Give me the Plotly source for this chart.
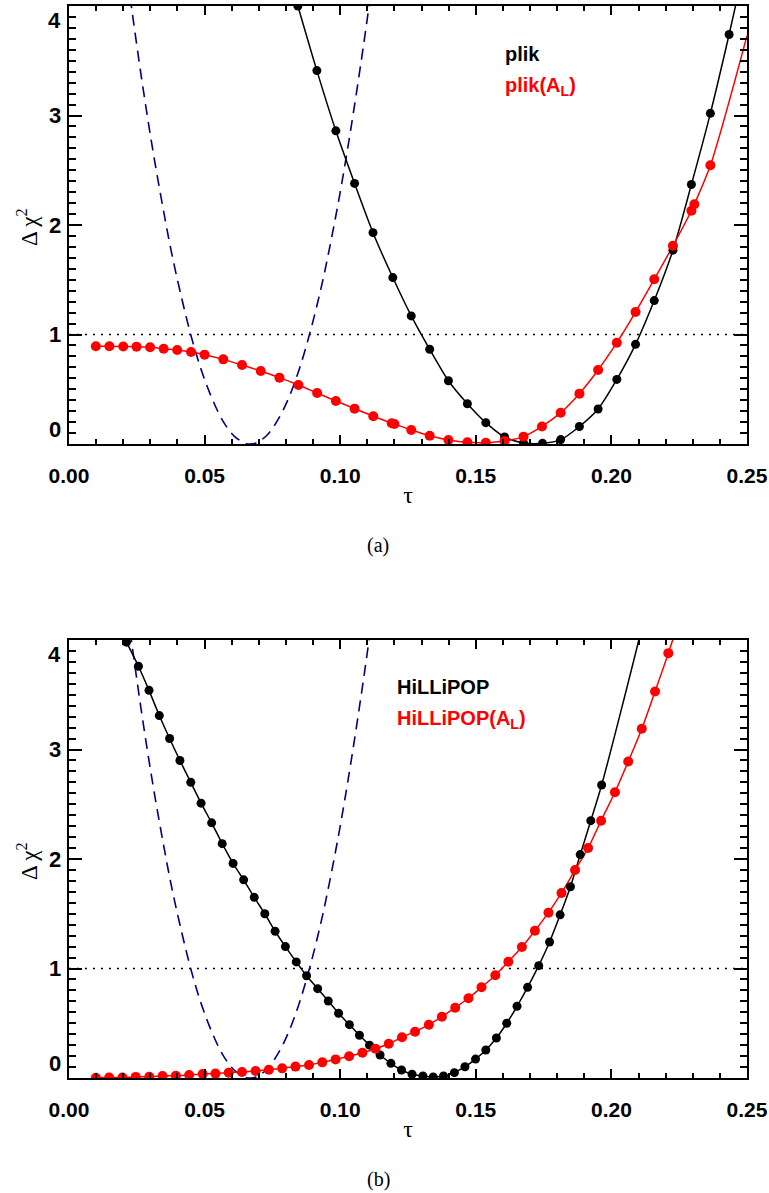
import plotly.graph_objects as go

W, H = 769, 1193

# ---------------- data (panel a) ----------------
tau_a_plik = [0.0844, 0.0914, 0.0984, 0.1053, 0.1121, 0.1194, 0.1262, 0.1330, 0.1399, 0.1469,
              0.1537, 0.1606, 0.1676, 0.1746, 0.1813, 0.1882, 0.1951, 0.2020, 0.2089, 0.2158,
              0.2227, 0.2295, 0.2365, 0.2434]
dchi_a_plik = [4.00, 3.41, 2.86, 2.38, 1.93, 1.52, 1.17, 0.865, 0.578, 0.368,
               0.195, 0.064, 0.010, 0.006, 0.040, 0.160, 0.320, 0.590, 0.910, 1.310,
               1.770, 2.370, 3.020, 3.740]
tail_tau_a_plik = [0.2503]
tail_dchi_a_plik = [4.50]

tau_a_plikAL = [0.0099, 0.0149, 0.0200, 0.0249, 0.0299, 0.0349, 0.0399, 0.0450, 0.0500, 0.0569,
                0.0638, 0.0707, 0.0776, 0.0846, 0.0915, 0.0984, 0.1053, 0.1122, 0.1190, 0.1200,
                0.1262, 0.1330, 0.1399, 0.1469, 0.1537, 0.1606, 0.1676, 0.1744, 0.1813, 0.1882,
                0.1951, 0.2020, 0.2089, 0.2158, 0.2227, 0.2295, 0.2306, 0.2365]
dchi_a_plikAL = [0.892, 0.892, 0.890, 0.889, 0.883, 0.870, 0.858, 0.840, 0.816, 0.773,
                 0.721, 0.667, 0.606, 0.539, 0.466, 0.393, 0.323, 0.253, 0.190, 0.182,
                 0.128, 0.076, 0.037, 0.015, 0.012, 0.027, 0.067, 0.160, 0.286, 0.460,
                 0.676, 0.925, 1.205, 1.504, 1.810, 2.130, 2.190, 2.545]
tail_tau_a_plikAL = [0.2500]
tail_dchi_a_plikAL = [3.73]

# ---------------- data (panel b) ----------------
tau_b_hil = [0.0212, 0.0256, 0.0295, 0.0333, 0.0371, 0.0409, 0.0449, 0.0487, 0.0526, 0.0565,
             0.0605, 0.0644, 0.0683, 0.0722, 0.0760, 0.0798, 0.0838, 0.0876, 0.0917, 0.0956,
             0.0994, 0.1034, 0.1071, 0.1108, 0.1147, 0.1187, 0.1226, 0.1265, 0.1305, 0.1343,
             0.1381, 0.1421, 0.1460, 0.1499, 0.1537, 0.1576, 0.1614, 0.1652, 0.1691, 0.1732,
             0.1772, 0.1811, 0.1849, 0.1885, 0.1924, 0.1964]
dchi_b_hil = [3.98, 3.76, 3.54, 3.31, 3.10, 2.90, 2.70, 2.51, 2.33, 2.14,
              1.96, 1.81, 1.65, 1.50, 1.34, 1.20, 1.06, 0.934, 0.816, 0.703,
              0.591, 0.487, 0.390, 0.300, 0.210, 0.134, 0.073, 0.034, 0.018, 0.009,
              0.018, 0.049, 0.103, 0.173, 0.256, 0.365, 0.500, 0.655, 0.828, 1.026,
              1.242, 1.490, 1.747, 2.040, 2.350, 2.676]
tail_tau_b_hil = [0.2101, 0.2140]
tail_dchi_b_hil = [4.00, 4.42]

tau_b_hilAL = [0.0099, 0.0148, 0.0197, 0.0246, 0.0296, 0.0345, 0.0394, 0.0443, 0.0493, 0.0540,
               0.0589, 0.0638, 0.0688, 0.0737, 0.0786, 0.0835, 0.0885, 0.0934, 0.0983, 0.1033,
               0.1082, 0.1130, 0.1179, 0.1228, 0.1276, 0.1327, 0.1375, 0.1424, 0.1473, 0.1521,
               0.1572, 0.1620, 0.1670, 0.1718, 0.1768, 0.1816, 0.1866, 0.1914, 0.1962, 0.2013,
               0.2062, 0.2112, 0.2161, 0.2210]
dchi_b_hilAL = [0.003, 0.005, 0.005, 0.010, 0.012, 0.018, 0.021, 0.027, 0.036, 0.040,
                0.049, 0.055, 0.064, 0.076, 0.088, 0.104, 0.119, 0.143, 0.170, 0.198,
                0.230, 0.267, 0.313, 0.372, 0.423, 0.487, 0.560, 0.642, 0.728, 0.828,
                0.938, 1.062, 1.196, 1.345, 1.510, 1.690, 1.900, 2.100, 2.350, 2.610,
                2.890, 3.190, 3.530, 3.880]
tail_tau_b_hilAL = [0.2259]
tail_dchi_b_hilAL = [4.25]

# low-ell prior curve (dashed), same in both panels
tau_prior = [0.0200, 0.0231, 0.0270, 0.0310, 0.0350, 0.0378, 0.0410, 0.0452, 0.0490, 0.0530,
             0.0570, 0.0610, 0.0650, 0.0668, 0.0690, 0.0730, 0.0770, 0.0810, 0.0850, 0.0890,
             0.0930, 0.0960, 0.1000, 0.1040, 0.1080, 0.1109, 0.1140]
dchi_prior = [4.57, 3.98, 3.30, 2.67, 2.11, 1.75, 1.39, 0.97, 0.66, 0.40,
              0.20, 0.07, 0.007, 0.0, 0.01, 0.08, 0.22, 0.42, 0.69, 1.03,
              1.43, 1.78, 2.30, 2.89, 3.54, 4.05, 4.64]

x_ticks = [0.00, 0.05, 0.10, 0.15, 0.20, 0.25]
y_ticks = [0, 1, 2, 3, 4]

labels_a = ["plik", "plik(A<sub>L</sub>)"]
labels_b = ["HiLLiPOP", "HiLLiPOP(A<sub>L</sub>)"]
captions = ["(a)", "(b)"]

# ---------------- layout geometry ----------------
X0, X1 = 69, 747
PANELS = [(6, 444), (640, 1078)]
BLACK = "black"
RED = "#ff0000"
NAVY = "#000080"
SANS = "Liberation Sans, Arial"
SERIF = "Liberation Serif, Times New Roman, serif"


def py(p):
    return 1 - p / H


fig = go.Figure()


def add_panel(xa, ya, prior, black, red):
    fig.add_trace(go.Scatter(x=prior[0], y=prior[1], mode="lines",
                             line=dict(color=NAVY, width=1.6, dash="11px,7px", shape="spline"),
                             xaxis=xa, yaxis=ya, showlegend=False, hoverinfo="skip"))
    for (t, d, tt, td), col in ((black, BLACK), (red, RED)):
        fig.add_trace(go.Scatter(x=list(t) + list(tt), y=list(d) + list(td), mode="lines",
                                 line=dict(color=col, width=1.5, shape="spline", smoothing=0.8),
                                 xaxis=xa, yaxis=ya, showlegend=False))
    for (t, d, tt, td), col, ms in ((black, BLACK, 9), (red, RED, 10)):
        fig.add_trace(go.Scatter(x=t, y=d, mode="markers",
                                 marker=dict(color=col, size=ms, line=dict(width=0)),
                                 xaxis=xa, yaxis=ya, showlegend=False))


add_panel("x", "y", (tau_prior, dchi_prior),
          (tau_a_plik, dchi_a_plik, tail_tau_a_plik, tail_dchi_a_plik),
          (tau_a_plikAL, dchi_a_plikAL, tail_tau_a_plikAL, tail_dchi_a_plikAL))
add_panel("x2", "y2", (tau_prior, dchi_prior),
          (tau_b_hil, dchi_b_hil, tail_tau_b_hil, tail_dchi_b_hil),
          (tau_b_hilAL, dchi_b_hilAL, tail_tau_b_hilAL, tail_dchi_b_hilAL))

xcommon = dict(range=[0, 0.25], domain=[X0 / W, X1 / W], automargin=False,
               showline=True, linewidth=2,
               linecolor=BLACK, mirror="ticks", ticks="inside", ticklen=9, tickwidth=1.5,
               tickcolor=BLACK, tickvals=x_ticks, tickformat=".2f", showgrid=False,
               zeroline=False, ticklabelstandoff=12,
               tickfont=dict(family=SANS, size=21, color=BLACK, weight="bold"),
               minor=dict(dtick=0.01, tick0=0, ticks="inside", ticklen=5, tickwidth=1.5,
                          tickcolor=BLACK, showgrid=False),
               title=dict(text="τ", font=dict(family=SERIF, size=24, color=BLACK), standoff=0))
ycommon = dict(range=[0, 4], automargin=False, showline=True, linewidth=2, linecolor=BLACK,
               mirror="ticks", ticks="inside", ticklen=13, tickwidth=1.5, tickcolor=BLACK,
               tickvals=y_ticks, showticklabels=False, showgrid=False, zeroline=False,
               minor=dict(dtick=0.1, tick0=0, ticks="inside", ticklen=7, tickwidth=1.5,
                          tickcolor=BLACK, showgrid=False))

fig.update_layout(
    width=W, height=H, margin=dict(l=0, r=0, t=0, b=0, autoexpand=False),
    paper_bgcolor="white", plot_bgcolor="white", showlegend=False,
    xaxis=dict(anchor="y", **xcommon),
    yaxis=dict(anchor="x", domain=[py(PANELS[0][1]), py(PANELS[0][0])], **ycommon),
    xaxis2=dict(anchor="y2", **xcommon),
    yaxis2=dict(anchor="x2", domain=[py(PANELS[1][1]), py(PANELS[1][0])], **ycommon),
)

# reference line at delta chi2 = 1
for xr, yr in (("x domain", "y"), ("x2 domain", "y2")):
    fig.add_shape(type="line", xref=xr, yref=yr, x0=0, x1=1, y0=1, y1=1,
                  line=dict(color=BLACK, width=1.6, dash="2px,6px"), layer="below")

ann = []
# y tick labels
for yr in ("y", "y2"):
    for v in y_ticks:
        if v == 0:
            ya = "bottom"
        elif v == 4:
            ya = "top"
        else:
            ya = "middle"
        ann.append(dict(x=(X0 - 6) / W, xref="paper", y=v, yref=yr, text=str(v),
                        xanchor="right", yanchor=ya, showarrow=False,
                        font=dict(family=SANS, size=22, color=BLACK, weight="bold")))
# y titles
for top, bot in PANELS:
    ann.append(dict(x=27 / W, xref="paper", y=py((top + bot) / 2 + 2), yref="paper",
                    text="Δ χ<sup>2</sup>", textangle=-90, showarrow=False,
                    xanchor="center", yanchor="middle",
                    font=dict(family=SERIF, size=23, color=BLACK)))
# series labels
for (lx, ly1, ly2), labs in (((503, 54, 86), labels_a), ((395, 687, 719), labels_b)):
    ann.append(dict(x=lx / W, xref="paper", y=py(ly1), yref="paper", text=labs[0],
                    xanchor="left", yanchor="middle", showarrow=False,
                    font=dict(family=SANS, size=20, color=BLACK, weight="bold")))
    ann.append(dict(x=lx / W, xref="paper", y=py(ly2), yref="paper", text=labs[1],
                    xanchor="left", yanchor="middle", showarrow=False,
                    font=dict(family=SANS, size=20, color=RED, weight="bold")))
# captions
for cy, cap in ((545, captions[0]), (1179, captions[1])):
    ann.append(dict(x=378 / W, xref="paper", y=py(cy), yref="paper", text=cap,
                    xanchor="center", yanchor="middle", showarrow=False,
                    font=dict(family=SERIF, size=20, color=BLACK)))

fig.update_layout(annotations=ann)
fig.write_html("out.html", config={"displayModeBar": False},
               post_script="document.body.style.margin='0';document.body.style.padding='0';")
